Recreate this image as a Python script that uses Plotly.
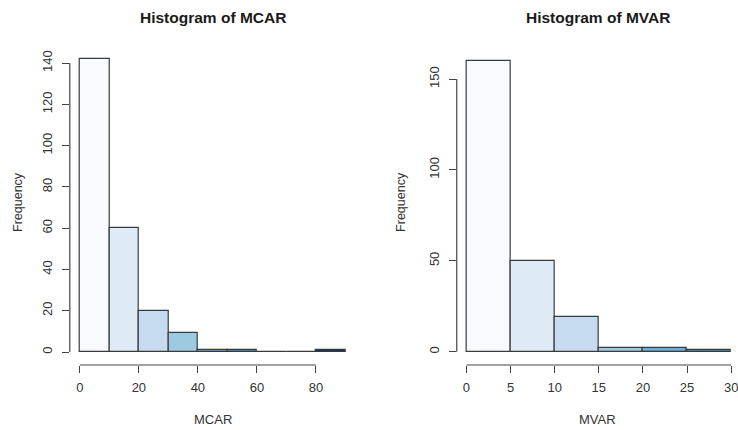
import plotly.graph_objects as go

# ---- data ----
mcar_edges = [0, 10, 20, 30, 40, 50, 60, 70, 80, 90]
mcar_counts = [142, 60, 20, 9, 1, 1, 0, 0, 1]
mvar_edges = [0, 5, 10, 15, 20, 25, 30]
mvar_counts = [160, 50, 19, 2, 2, 1]

mcar_xticks = [0, 20, 40, 60, 80]
mcar_yticks = [0, 20, 40, 60, 80, 100, 120, 140]
mvar_xticks = [0, 5, 10, 15, 20, 25, 30]
mvar_yticks = [0, 50, 100, 150]

blues9 = ["#F7FBFF", "#DEEBF7", "#C6DBEF", "#9ECAE1", "#6BAED6",
          "#4292C6", "#2171B5", "#08519C", "#08306B"]

W, H = 738, 430
FONT = "Liberation Sans, Arial, sans-serif"
AX = "#444444"


def mids(edges):
    return [(a + b) / 2 for a, b in zip(edges[:-1], edges[1:])]


def widths(edges):
    return [b - a for a, b in zip(edges[:-1], edges[1:])]


fig = go.Figure()

fig.add_trace(go.Bar(
    x=mids(mcar_edges), y=mcar_counts, width=widths(mcar_edges),
    marker=dict(color=blues9[:len(mcar_counts)], line=dict(color="#3a3a3a", width=1.2)),
    xaxis="x", yaxis="y", showlegend=False, hoverinfo="skip"))

fig.add_trace(go.Bar(
    x=mids(mvar_edges), y=mvar_counts, width=widths(mvar_edges),
    marker=dict(color=blues9[:len(mvar_counts)], line=dict(color="#3a3a3a", width=1.2)),
    xaxis="x2", yaxis="y2", showlegend=False, hoverinfo="skip"))


def px_x(p):
    return p / W


def px_y(p):
    return (H - p) / H


tick_font = dict(family=FONT, size=13, color="#333333")
common_x = dict(showgrid=False, zeroline=False, showline=False, ticks="outside",
                ticklen=7, tickwidth=1, tickcolor=AX, tickfont=tick_font,
                ticklabelstandoff=3, ticklabeloverflow="allow", fixedrange=True)
common_y = dict(showgrid=False, zeroline=False, showline=False, ticks="outside",
                ticklen=7, tickwidth=1, tickcolor=AX, tickfont=tick_font,
                tickangle=-90, ticklabelstandoff=5, ticklabeloverflow="allow",
                fixedrange=True)

fig.update_layout(
    width=W, height=H,
    margin=dict(l=0, r=0, t=0, b=0),
    paper_bgcolor="white", plot_bgcolor="white",
    bargap=0,
    xaxis=dict(common_x, domain=[px_x(70), px_x(357)], range=[-3.4, 93.6],
               tickvals=mcar_xticks, anchor="y"),
    yaxis=dict(common_y, domain=[px_y(365), px_y(47)], range=[-6.3, 147.8],
               tickvals=mcar_yticks, anchor="x"),
    xaxis2=dict(common_x, domain=[px_x(458), 1.0], range=[-1.1, 30.55],
                tickvals=mvar_xticks, anchor="y2"),
    yaxis2=dict(common_y, domain=[px_y(365), px_y(49)], range=[-7.3, 166.5],
                tickvals=mvar_yticks, anchor="x2"),
)

shapes = []
for xa, ya, xt, yt in [("x", "y", mcar_xticks, mcar_yticks),
                       ("x2", "y2", mvar_xticks, mvar_yticks)]:
    shapes.append(dict(type="line", xref=xa, yref=ya + " domain",
                       x0=xt[0], x1=xt[-1], y0=0, y1=0,
                       line=dict(color=AX, width=1.2)))
    shapes.append(dict(type="line", xref=xa + " domain", yref=ya,
                       x0=0, x1=0, y0=yt[0], y1=yt[-1],
                       line=dict(color=AX, width=1.2)))
fig.update_layout(shapes=shapes)

anns = []
for xa, title, name, fx in [("x", "Histogram of MCAR", "MCAR", 18),
                            ("x2", "Histogram of MVAR", "MVAR", 402)]:
    cx = 0.5 if xa == "x" else 0.505
    anns.append(dict(text="<b>" + title + "</b>", xref=xa + " domain", x=cx,
                     yref="paper", y=px_y(17), showarrow=False,
                     xanchor="center", yanchor="middle",
                     font=dict(family=FONT, size=15.5, color="#1a1a1a")))
    anns.append(dict(text=name, xref=xa + " domain", x=cx,
                     yref="paper", y=px_y(419), showarrow=False,
                     xanchor="center", yanchor="middle",
                     font=dict(family=FONT, size=13, color="#333333")))
    anns.append(dict(text="Frequency", xref="paper", x=px_x(fx),
                     yref="paper", y=px_y(202), showarrow=False, textangle=-90,
                     xanchor="center", yanchor="middle",
                     font=dict(family=FONT, size=12.5, color="#333333")))
fig.update_layout(annotations=anns)

fig.write_html("out.html", config={"displayModeBar": False},
               post_script="document.body.style.margin='0';document.body.style.overflow='hidden';")
